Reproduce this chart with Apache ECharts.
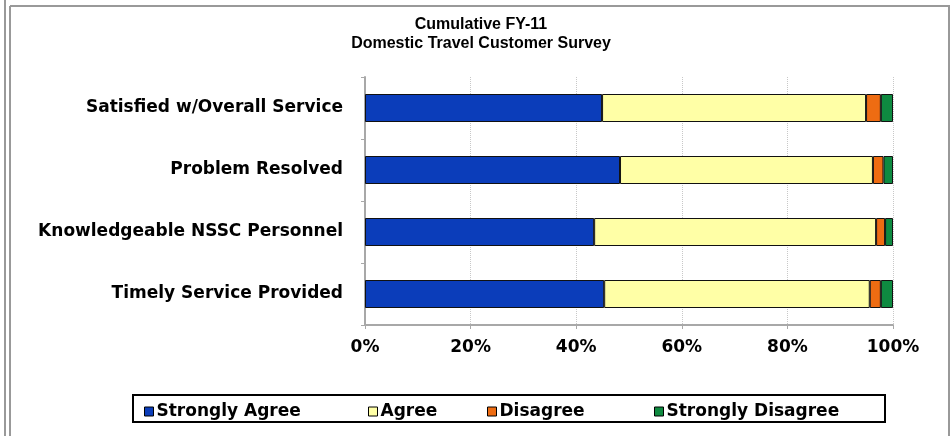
<!DOCTYPE html>
<html>
<head>
<meta charset="utf-8">
<script src="https://cdn.jsdelivr.net/npm/echarts@6/dist/echarts.min.js"></script>
<style>
html,body{margin:0;padding:0;background:#fff;}
#chart{width:951px;height:436px;}
</style>
</head>
<body>
<div id="chart"></div>
<script>
const categories = ["Satisfied w/Overall Service", "Problem Resolved", "Knowledgeable NSSC Personnel", "Timely Service Provided"];
const stronglyAgree = [44.9, 48.3, 43.4, 45.3];
const agree = [50.0, 47.9, 53.4, 50.3];
const disagree = [2.8, 2.0, 1.7, 2.1];
const stronglyDisagree = [2.3, 1.8, 1.5, 2.3];
const seriesNames = ["Strongly Agree", "Agree", "Disagree", "Strongly Disagree"];
const colors = ["#0B3DBA", "#FFFFA6", "#EE6C12", "#0E8A40"];

const chart = echarts.init(document.getElementById('chart'));
const allData = [stronglyAgree, agree, disagree, stronglyDisagree];
const font = "'DejaVu Sans', sans-serif";
const legendLefts = [139, 363, 482, 649];

chart.setOption({
  animation: false,
  color: colors,
  title: {
    text: "Cumulative FY-11\nDomestic Travel Customer Survey",
    left: 476, top: 10, textAlign: 'center',
    textStyle: { fontFamily: "'Liberation Sans', Arial, sans-serif", fontSize: 16, fontWeight: 'bold', color: '#000', lineHeight: 19 }
  },
  grid: { left: 365, right: 58, top: 77, bottom: 111 },
  xAxis: {
    type: 'value', min: 0, max: 100, interval: 20,
    axisLine: { show: true, lineStyle: { color: '#a8a8a8', width: 2 } },
    axisTick: { show: true, length: 4, lineStyle: { color: '#a8a8a8' } },
    splitLine: { show: true, lineStyle: { color: '#c8c8c8', type: 'dotted' } },
    axisLabel: { formatter: '{value}%', fontFamily: font, fontWeight: 'bold', fontSize: 17, color: '#000', margin: 14 }
  },
  yAxis: {
    type: 'category', data: categories, inverse: true,
    axisLine: { show: true, lineStyle: { color: '#a8a8a8', width: 2 } },
    axisTick: { show: true, length: 4, lineStyle: { color: '#a8a8a8' } },
    axisLabel: { fontFamily: font, fontWeight: 'bold', fontSize: 17, color: '#000', margin: 22 }
  },
  legend: seriesNames.map((n, i) => ({
    left: legendLefts[i], top: 398, itemWidth: 9, itemHeight: 9, icon: 'rect',
    data: [n],
    textStyle: { fontFamily: font, fontSize: 17, fontWeight: 'bold', color: '#000', padding: [0, 0, 0, -2] },
    itemStyle: { borderColor: '#000', borderWidth: 1 }
  })),
  graphic: [
    { type: 'rect', shape: { x: 133, y: 395, width: 752, height: 27 }, style: { fill: 'none', stroke: '#000', lineWidth: 2 }, z: -1 },
    { type: 'line', shape: { x1: 5, y1: 0, x2: 5, y2: 436 }, style: { stroke: '#999', lineWidth: 2 } },
    { type: 'line', shape: { x1: 10, y1: 6, x2: 10, y2: 436 }, style: { stroke: '#999', lineWidth: 2 } },
    { type: 'line', shape: { x1: 10, y1: 6, x2: 950, y2: 6 }, style: { stroke: '#999', lineWidth: 2 } },
    { type: 'line', shape: { x1: 949, y1: 6, x2: 949, y2: 436 }, style: { stroke: '#999', lineWidth: 2 } }
  ],
  series: seriesNames.map((n, i) => ({
    name: n, type: 'bar', stack: 'total', data: allData[i], barWidth: 28,
    itemStyle: { color: colors[i], borderColor: '#111', borderWidth: 1 }
  }))
});
</script>
</body>
</html>
